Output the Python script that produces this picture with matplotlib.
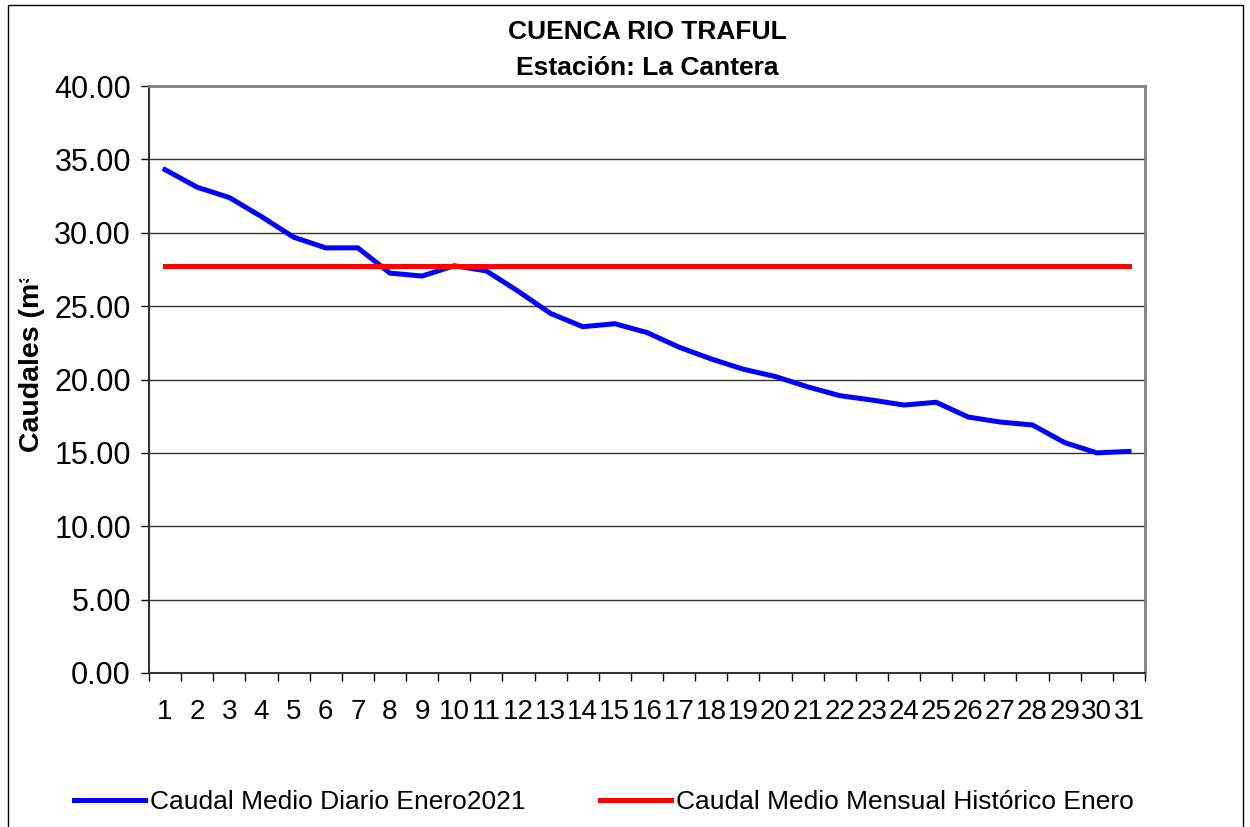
import matplotlib
matplotlib.use('Agg')
import matplotlib.pyplot as plt
from matplotlib.patches import Rectangle
from matplotlib.transforms import Bbox, TransformedBbox
import numpy as np

# daily mean flow, January 2021 (m3/s)
days = list(range(1, 32))
caudal_diario = [34.3, 33.1, 32.4, 31.1, 29.7, 28.97, 28.97, 27.25, 27.05, 27.75,
                 27.4, 26.0, 24.5, 23.6, 23.8, 23.2, 22.2, 21.4, 20.7, 20.2,
                 19.5, 18.9, 18.6, 18.26, 18.45, 17.44, 17.1, 16.9, 15.7, 15.0,
                 15.1]
caudal_historico = [27.75] * 31
yticks = [0, 5, 10, 15, 20, 25, 30, 35, 40]

plt.rcParams['font.family'] = ['Liberation Sans', 'DejaVu Sans']

W, H = 1250, 827
fig = plt.figure(figsize=(12.5, 8.27), dpi=100)
ax = fig.add_axes([149 / W, 1 - 673 / H, (1145 - 149) / W, (673 - 86) / H])

# outer chart border (cut at the bottom)
fig.patches.append(Rectangle((8 / W, -0.05), (1243 - 8) / W, 1.05 - 5 / H,
                             transform=fig.transFigure, fill=False,
                             edgecolor='black', linewidth=1))

ax.plot(days, caudal_diario, color='#0000ff', linewidth=3.6,
        solid_joinstyle='miter', label='Caudal Medio Diario Enero2021')
ax.plot(days, caudal_historico, color='#ff0000', linewidth=3.6,
        label='Caudal Medio Mensual Histórico Enero')

ax.set_xlim(0.5, 31.5)
ax.set_ylim(0, 40)
ax.set_yticks(yticks)
ax.set_yticklabels([f'{v:.2f}' for v in yticks])
ax.set_xticks(days)
ax.set_xticklabels([str(d) for d in days])
ax.set_xticks(np.arange(0.5, 32, 1), minor=True)

ax.tick_params(axis='x', which='major', length=0, pad=19, labelsize=20)
ax.tick_params(axis='x', which='minor', length=6, width=1, direction='out')
ax.tick_params(axis='y', length=6, width=1, direction='out', pad=7, labelsize=22)
ax.yaxis.grid(True, color='#333333', linewidth=1)
ax.set_axisbelow(True)

for side in ['top', 'right']:
    ax.spines[side].set_color('#808080')
    ax.spines[side].set_linewidth(2)
for side in ['left', 'bottom']:
    ax.spines[side].set_color('#333333')
    ax.spines[side].set_linewidth(1.5)

fig.text(0.5 * (149 + 1145) / W, 1 - 32 / H, 'CUENCA RIO TRAFUL',
         ha='center', va='center', fontsize=19, fontweight='bold')
fig.text(0.5 * (149 + 1145) / W, 1 - 68 / H, 'Estación: La Cantera',
         ha='center', va='center', fontsize=19, fontweight='bold')

# y label is cut off at the top in the original
ylab = fig.text(32 / W, 1 - 452 / H, 'Caudales (m³/s)', rotation=90,
                ha='center', va='bottom', fontsize=20.5, fontweight='bold')
ylab.set_clip_on(True)
ylab.set_clip_box(TransformedBbox(Bbox([[0, 0], [1, 1 - 279 / H]]), fig.transFigure))

fig.legend(loc='center', bbox_to_anchor=(0.5 * (68 + 1140) / W, 1 - 802 / H),
           ncol=2, frameon=False, fontsize=19, handlelength=2.7,
           handletextpad=0.2, columnspacing=2.8)

fig.savefig('out.png', dpi=100)
